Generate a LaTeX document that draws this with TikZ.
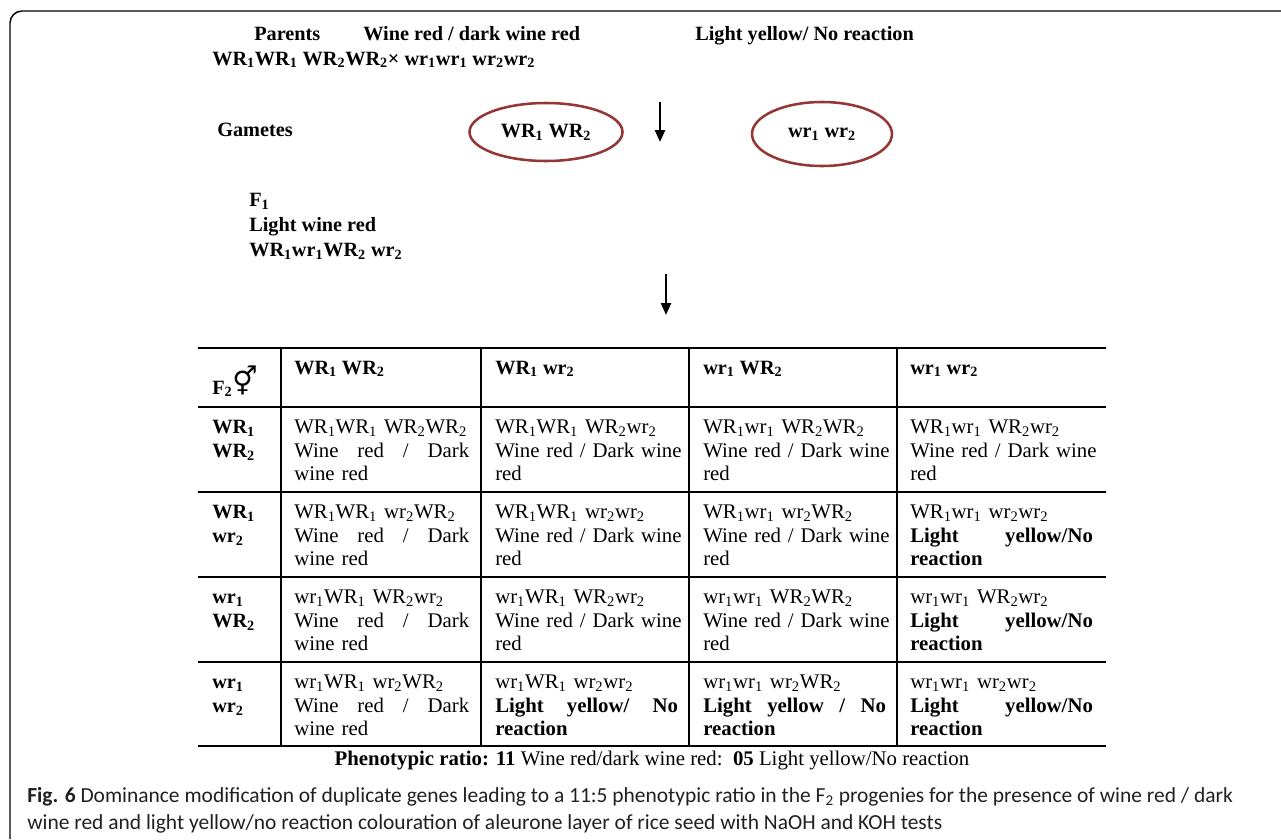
\documentclass[tikz,border=0pt]{standalone}
\usepackage{fontspec}
\setmainfont{Liberation Serif}
\newfontfamily\capfont{Carlito}
\newfontfamily\symfont{DejaVu Sans}
\usetikzlibrary{positioning,arrows.meta,shapes.geometric}
\definecolor{gmred}{HTML}{943634}
\definecolor{capink}{HTML}{231F20}
\newcommand{\WRi}{WR\textsubscript{1}}
\newcommand{\WRii}{WR\textsubscript{2}}
\newcommand{\wri}{wr\textsubscript{1}}
\newcommand{\wrii}{wr\textsubscript{2}}
\newcommand{\darkwide}{\mbox{Wine red / Dark wine}\\red}
\newcommand{\darknarrow}{Wine\hfill red\hfill /\hfill Dark\\wine red}

\begin{document}
\begin{tikzpicture}[
  x=0.75pt, y=-0.75pt,
  font=\fontsize{15.6}{17.6}\selectfont,
  lbl/.style={anchor=base west, inner sep=0pt, font=\fontsize{15.2}{18.75}\selectfont\bfseries},
  gamete/.style={draw=gmred, line width=1.9pt, ellipse, inner sep=0pt,
    font=\fontsize{15.2}{17}\selectfont\bfseries},
  cross/.style={-{Triangle[length=9pt,width=7.5pt]}, line width=1.8pt},
  grid/.style={line width=1.1pt},
  cell/.style={anchor=north west, inner sep=0pt, align=left, text width=137pt},
  narrowcell/.style={cell, text width=131.25pt},
  headcell/.style={anchor=base west, inner sep=0pt, font=\fontsize{15.2}{17.6}\selectfont\bfseries},
  rowhead/.style={cell, text width=40pt, font=\fontsize{15.2}{17.6}\selectfont\bfseries},
  ]
  \useasboundingbox (0,0) rectangle (1281,839);
  \draw[line width=1.1pt, rounded corners=9pt] (10,839) |- (1281,11);

  % The parents.
  \node[lbl] (par) at (254,40) {Parents};
  \node[lbl] (pwine) at (363,40) {Wine red / dark wine red};
  \node[lbl] (pyel) at (695,40) {Light yellow/ No reaction};
  \node[lbl] (pcross) at (212,65) {\WRi\WRi{} \WRii\WRii× \wri\wri{} \wrii\wrii};

  % Gametes.
  \node[lbl] (gam) at (217,136) {Gametes};
  \node[gamete, minimum width=114.75pt, minimum height=43.5pt] (gdom) at (546,132) {\WRi{} \WRii};
  \node[gamete, minimum width=105pt, minimum height=48pt] (grec) at (822,134) {\wri{} \wrii};
  \coordinate (down1a) at (660,102);
  \coordinate (down1b) at (660,142);
  \draw[cross] (down1a) -- (down1b);

  % F1.
  \node[lbl, anchor=north west, align=left] (fone) at (249,193)
    {F\textsubscript{1}\\Light wine red\\\WRi\wri\WRii{} \wrii};
  \coordinate (down2a) at (666,274);
  \coordinate (down2b) at (666,315);
  \draw[cross] (down2a) -- (down2b);

  % The F2 checkerboard.
  \foreach \y in {348,407,492,577,662,746}
    \draw[grid] (198,\y) -- (1106,\y);
  \foreach \x in {281,481,689,897}
    \draw[grid] (\x,348) -- (\x,746);

  \node[lbl] (ftwo) at (212,394)
    {F\textsubscript{2}\raisebox{2pt}{\symfont\fontsize{21}{21}\selectfont ⚥}};
  \node[headcell] (hc1) at (294,374) {\WRi{} \WRii};
  \node[headcell] (hc2) at (495,374) {\WRi{} \wrii};
  \node[headcell] (hc3) at (703,374) {\wri{} \WRii};
  \node[headcell] (hc4) at (910,374) {\wri{} \wrii};

  \node[rowhead] (hr1) at (212,417) {\strut\WRi\\\WRii};
  \node[rowhead] (hr2) at (212,502) {\strut\WRi\\\wrii};
  \node[rowhead] (hr3) at (212,587) {\strut\wri\\\WRii};
  \node[rowhead] (hr4) at (212,672) {\strut\wri\\\wrii};

  \node[narrowcell] (c11) at (294,417) {\strut\WRi\WRi{} \WRii\WRii\\\darknarrow};
  \node[cell] (c12) at (495,417) {\strut\WRi\WRi{} \WRii\wrii\\\darkwide};
  \node[cell] (c13) at (703,417) {\strut\WRi\wri{} \WRii\WRii\\\darkwide};
  \node[cell] (c14) at (910,417) {\strut\WRi\wri{} \WRii\wrii\\\darkwide};

  \node[narrowcell] (c21) at (294,502) {\strut\WRi\WRi{} \wrii\WRii\\\darknarrow};
  \node[cell] (c22) at (495,502) {\strut\WRi\WRi{} \wrii\wrii\\\darkwide};
  \node[cell] (c23) at (703,502) {\strut\WRi\wri{} \wrii\WRii\\\darkwide};
  \node[cell] (c24) at (910,502) {\strut\WRi\wri{} \wrii\wrii\\\textbf{Light\hfill yellow/No}\\\textbf{reaction}};

  \node[narrowcell] (c31) at (294,587) {\strut\wri\WRi{} \WRii\wrii\\\darknarrow};
  \node[cell] (c32) at (495,587) {\strut\wri\WRi{} \WRii\wrii\\\darkwide};
  \node[cell] (c33) at (703,587) {\strut\wri\wri{} \WRii\WRii\\\darkwide};
  \node[cell] (c34) at (910,587) {\strut\wri\wri{} \WRii\wrii\\\textbf{Light\hfill yellow/No}\\\textbf{reaction}};

  \node[narrowcell] (c41) at (294,672) {\strut\wri\WRi{} \wrii\WRii\\\darknarrow};
  \node[cell] (c42) at (495,672) {\strut\wri\WRi{} \wrii\wrii\\\textbf{Light\hfill yellow/\hfill No}\\\textbf{reaction}};
  \node[cell] (c43) at (703,672) {\strut\wri\wri{} \wrii\WRii\\\textbf{Light\hfill yellow\hfill /\hfill No}\\\textbf{reaction}};
  \node[cell] (c44) at (910,672) {\strut\wri\wri{} \wrii\wrii\\\textbf{Light\hfill yellow/No}\\\textbf{reaction}};

  \node[anchor=base, inner sep=0pt] (ratio) at (652,765)
    {\textbf{Phenotypic ratio: 11} Wine red/dark wine red:\ \ \textbf{05} Light yellow/No reaction};

  % Caption.
  \node[anchor=base west, inner sep=0pt, align=left, text=capink,
    font=\capfont\fontsize{16.1}{20.25}\selectfont] (cap) at (27,829)
    {\textbf{Fig. 6} Dominance modification of duplicate genes leading to a 11:5 phenotypic ratio in the F\textsubscript{2} progenies for the presence of wine red / dark\\
     wine red and light yellow/no reaction colouration of aleurone layer of rice seed with NaOH and KOH tests};
\end{tikzpicture}
\end{document}
